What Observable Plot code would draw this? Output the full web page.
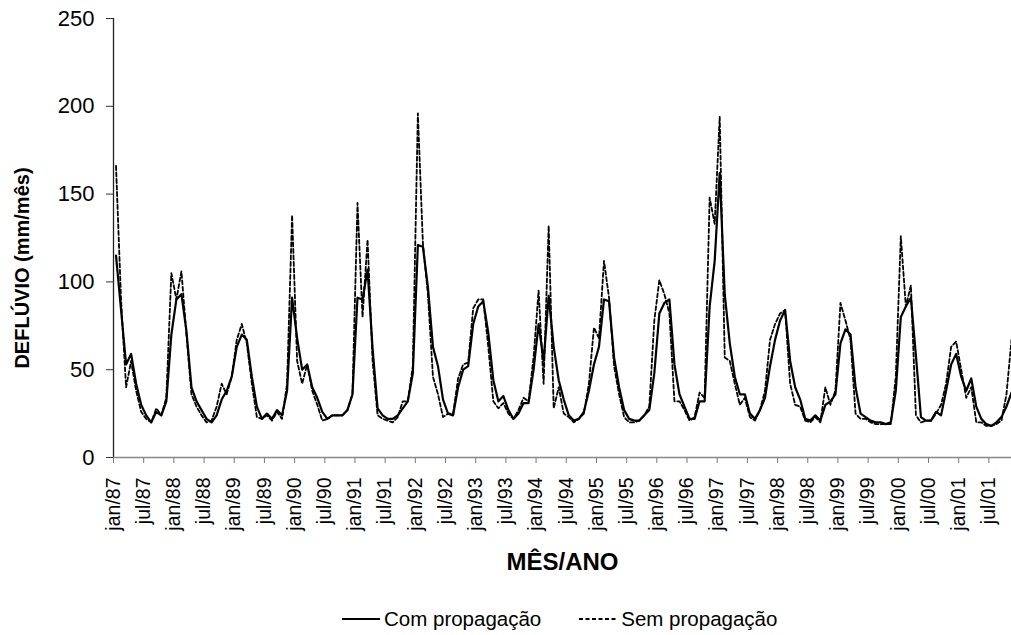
<!DOCTYPE html>
<html>
<head>
<meta charset="utf-8">
<script src="https://cdn.jsdelivr.net/npm/d3@7"></script>
<script src="https://cdn.jsdelivr.net/npm/@observablehq/plot@0.6"></script>
<style>
  html, body { margin: 0; padding: 0; background: #fff; }
  body { width: 1011px; height: 635px; overflow: hidden; font-family: "Liberation Sans", Arial, sans-serif; color: #000; }
  #legend { display: flex; align-items: center; gap: 38px; padding-left: 342px; margin-top: 22px; font-size: 20.5px; }
  #legend .item { display: flex; align-items: center; gap: 4px; }
</style>
</head>
<body>
<div id="chart"></div>
<div id="legend"></div>
<script>
// Monthly runoff (mm/mês), jan/1987 .. nov/2001
const comPropagacao = [
  115, 84, 53, 59, 42, 30, 24, 20, 26, 24, 32, 70,   // 1987
  90, 93, 72, 40, 32, 27, 22, 20, 24, 33, 38, 46,    // 1988
  63, 70, 67, 46, 29, 22, 25, 22, 27, 24, 38, 91,    // 1989
  68, 50, 53, 40, 34, 26, 22, 24, 24, 24, 27, 36,    // 1990
  91, 90, 107, 62, 28, 24, 22, 22, 24, 28, 32, 48,   // 1991
  121, 120, 97, 63, 52, 33, 25, 24, 40, 50, 52, 76,  // 1992
  86, 89, 71, 44, 32, 35, 27, 22, 25, 31, 31, 50,    // 1993
  76, 55, 92, 63, 44, 33, 24, 21, 22, 26, 38, 53,    // 1994
  63, 90, 89, 57, 40, 27, 22, 21, 21, 24, 27, 48,    // 1995
  82, 88, 90, 53, 36, 29, 22, 22, 32, 32, 86, 112,   // 1996
  162, 93, 65, 46, 36, 36, 25, 22, 27, 34, 52, 67,   // 1997
  78, 84, 55, 40, 33, 22, 21, 24, 21, 30, 32, 36,    // 1998
  65, 73, 70, 40, 25, 23, 21, 20, 20, 19, 20, 38,    // 1999
  80, 86, 91, 58, 23, 21, 21, 26, 24, 38, 53, 59,    // 2000
  46, 38, 45, 29, 22, 19, 18, 20, 23, 29, 37         // 2001
];
const semPropagacao = [
  166, 90, 40, 55, 38, 26, 22, 20, 28, 24, 34, 105,  // 1987
  90, 106, 70, 36, 29, 24, 20, 21, 29, 42, 36, 46,   // 1988
  67, 76, 65, 42, 23, 22, 24, 21, 26, 22, 42, 138,   // 1989
  55, 42, 53, 38, 30, 21, 22, 24, 24, 24, 27, 36,    // 1990
  145, 80, 124, 55, 24, 22, 21, 20, 23, 32, 32, 52,  // 1991
  196, 122, 93, 46, 36, 23, 25, 25, 45, 53, 54, 85,  // 1992
  90, 90, 63, 32, 28, 31, 25, 22, 27, 34, 32, 57,    // 1993
  95, 42, 132, 28, 40, 25, 23, 20, 22, 25, 42, 74,   // 1994
  68, 112, 91, 52, 36, 23, 20, 20, 21, 24, 29, 78,   // 1995
  101, 93, 82, 32, 32, 27, 21, 23, 37, 34, 148, 133, // 1996
  194, 57, 55, 42, 30, 34, 23, 21, 27, 38, 67, 76,   // 1997
  82, 84, 42, 30, 29, 21, 20, 23, 20, 40, 30, 38,    // 1998
  88, 78, 67, 25, 22, 22, 20, 19, 19, 19, 19, 46,    // 1999
  126, 86, 98, 24, 20, 21, 21, 25, 30, 42, 63, 66,   // 2000
  50, 34, 40, 20, 20, 18, 18, 19, 21, 36, 67         // 2001
];
const tickLabels = [
  "jan/87","jul/87","jan/88","jul/88","jan/89","jul/89","jan/90","jul/90",
  "jan/91","jul/91","jan/92","jul/92","jan/93","jul/93","jan/94","jul/94",
  "jan/95","jul/95","jan/96","jul/96","jan/97","jul/97","jan/98","jul/98",
  "jan/99","jul/99","jan/00","jul/00","jan/01","jul/01"
];
const yTicks = [0, 50, 100, 150, 200, 250];
const seriesNames = ["Com propagação", "Sem propagação"];

const rows = comPropagacao.map((c, i) => ({t: i + 0.5, com: c, sem: semPropagacao[i]}));
const xTickPos = tickLabels.map((_, k) => k * 6);

const chart = Plot.plot({
  width: 1011,
  height: 585,
  marginLeft: 113,
  marginRight: 0,
  marginTop: 18,
  marginBottom: 128,
  style: {fontFamily: "'Liberation Sans', Arial, sans-serif", background: "#fff", color: "#000", overflow: "visible"},
  x: {domain: [0, 178.5]},
  y: {domain: [0, 250]},
  marks: [
    Plot.axisY({ticks: yTicks, tickSize: 7, tickPadding: 12, fontSize: 22, label: null, stroke: "#333"}),
    Plot.axisX({ticks: xTickPos, tickFormat: d => tickLabels[Math.round(d / 6)], tickRotate: -90,
                tickSize: 6, tickPadding: 14, fontSize: 19.5, label: null, stroke: "#777"}),
    Plot.ruleX([0], {stroke: "#222", strokeWidth: 1.3}),
    Plot.ruleY([0], {stroke: "#888", strokeWidth: 1.6}),
    Plot.line(rows, {x: "t", y: "sem", stroke: "#000", strokeWidth: 1.8, strokeDasharray: "4,2.5"}),
    Plot.line(rows, {x: "t", y: "com", stroke: "#000", strokeWidth: 2.2}),
    Plot.text(["MÊS/ANO"], {frameAnchor: "bottom", dy: 112, fontSize: 24, fontWeight: "bold", fill: "#000"}),
    Plot.text(["DEFLÚVIO (mm/mês)"], {frameAnchor: "left", textAnchor: "middle", dx: -91, dy: 30, rotate: -90, fontSize: 20, fontWeight: "bold", fill: "#000"})
  ]
});
document.getElementById("chart").appendChild(chart);

const legend = document.getElementById("legend");
seriesNames.forEach((name, k) => {
  const item = document.createElement("div");
  item.className = "item";
  const dash = k === 1 ? 'stroke-dasharray="4,2.5"' : '';
  item.innerHTML = `<svg width="38" height="10"><line x1="0" y1="5" x2="38" y2="5" stroke="#000" stroke-width="2" ${dash}/></svg><span>${name}</span>`;
  legend.appendChild(item);
});
</script>
</body>
</html>
